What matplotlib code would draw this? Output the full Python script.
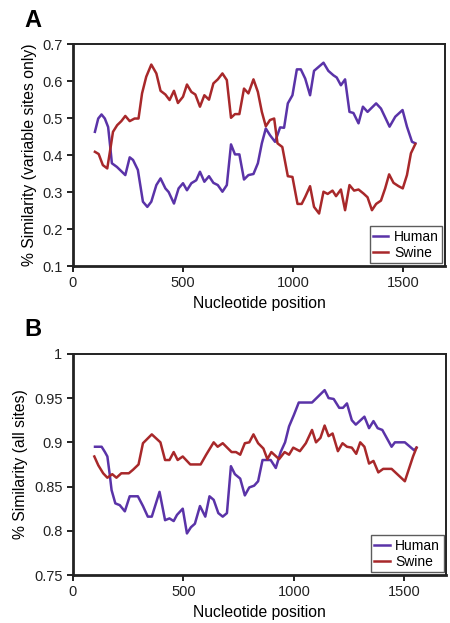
import matplotlib.pyplot as plt

plt.rcParams['font.family'] = ['Liberation Sans', 'DejaVu Sans']

# Panel A: variable sites only
human_a_pos = [100, 115, 130, 145, 160, 170, 177, 200, 238, 258, 273, 295, 318, 338, 356,
               379, 398, 420, 435, 459, 480, 500, 518, 538, 560, 577, 597, 618, 638, 658,
               679, 699, 718, 736, 756, 777, 797, 820, 840, 858, 876, 895, 918, 941, 959,
               976, 997, 1017, 1035, 1055, 1077, 1095, 1138, 1160, 1183, 1198, 1217, 1236,
               1256, 1274, 1297, 1317, 1338, 1377, 1399, 1438, 1464, 1497, 1517, 1540, 1555]
human_a = [0.463, 0.499, 0.51, 0.499, 0.476, 0.42, 0.378, 0.368, 0.346, 0.394, 0.387, 0.36,
           0.274, 0.26, 0.274, 0.319, 0.337, 0.31, 0.30, 0.269, 0.31, 0.324, 0.305, 0.324,
           0.332, 0.355, 0.328, 0.343, 0.325, 0.319, 0.301, 0.319, 0.429, 0.402, 0.402,
           0.334, 0.346, 0.349, 0.378, 0.432, 0.472, 0.454, 0.436, 0.475, 0.474, 0.54,
           0.562, 0.632, 0.632, 0.607, 0.562, 0.628, 0.65, 0.628, 0.616, 0.61, 0.589,
           0.605, 0.517, 0.514, 0.486, 0.531, 0.517, 0.54, 0.526, 0.477, 0.504, 0.522,
           0.477, 0.436, 0.432]

swine_a_pos = [100, 117, 136, 156, 171, 182, 201, 220, 238, 258, 280, 298, 314, 333, 356,
               379, 398, 420, 439, 459, 477, 500, 518, 538, 556, 577, 597, 618, 638, 658,
               679, 699, 718, 736, 756, 777, 797, 820, 840, 858, 876, 895, 914, 929, 951,
               976, 997, 1020, 1039, 1055, 1077, 1095, 1118, 1138, 1157, 1179, 1195, 1217,
               1236, 1256, 1277, 1297, 1320, 1338, 1358, 1377, 1399, 1418, 1436, 1456, 1479,
               1498, 1517, 1535, 1555]
swine_a = [0.409, 0.403, 0.373, 0.364, 0.42, 0.463, 0.481, 0.492, 0.506, 0.492, 0.499,
           0.499, 0.567, 0.612, 0.645, 0.621, 0.574, 0.564, 0.549, 0.574, 0.541, 0.558,
           0.591, 0.571, 0.564, 0.531, 0.562, 0.55, 0.594, 0.605, 0.621, 0.603, 0.501,
           0.511, 0.511, 0.58, 0.567, 0.605, 0.571, 0.517, 0.478, 0.495, 0.499, 0.432,
           0.422, 0.343, 0.341, 0.268, 0.268, 0.287, 0.316, 0.26, 0.242, 0.301, 0.295,
           0.304, 0.289, 0.307, 0.251, 0.319, 0.304, 0.307, 0.296, 0.286, 0.251, 0.268,
           0.277, 0.31, 0.348, 0.325, 0.316, 0.31, 0.346, 0.405, 0.43]

# Panel B: all sites
human_b_pos = [100, 130, 145, 156, 167, 175, 192, 212, 235, 257, 294, 317, 339, 357, 392,
               417, 437, 456, 471, 497, 516, 534, 552, 575, 599, 618, 637, 658, 678, 697,
               715, 733, 757, 778, 798, 820, 838, 858, 895, 918, 940, 960, 978, 1000, 1022,
               1082, 1139, 1157, 1180, 1205, 1222, 1240, 1262, 1280, 1319, 1340, 1360, 1379,
               1400, 1442, 1457, 1502, 1544, 1555]
human_b = [0.895, 0.895, 0.889, 0.884, 0.863, 0.846, 0.831, 0.829, 0.822, 0.839, 0.839,
           0.828, 0.816, 0.816, 0.844, 0.812, 0.814, 0.811, 0.818, 0.825, 0.797, 0.804,
           0.808, 0.828, 0.816, 0.839, 0.835, 0.820, 0.816, 0.820, 0.873, 0.864, 0.859,
           0.840, 0.849, 0.851, 0.856, 0.880, 0.880, 0.871, 0.889, 0.900, 0.918, 0.931,
           0.945, 0.945, 0.959, 0.950, 0.949, 0.939, 0.939, 0.944, 0.925, 0.920, 0.929,
           0.916, 0.924, 0.916, 0.914, 0.895, 0.900, 0.900, 0.891, 0.894]

swine_b_pos = [97, 115, 137, 156, 178, 197, 219, 253, 272, 297, 317, 357, 396, 417, 437,
               456, 474, 497, 531, 578, 603, 637, 655, 678, 718, 738, 757, 778, 798, 817,
               838, 862, 880, 898, 933, 958, 978, 997, 1027, 1054, 1082, 1100, 1120, 1139,
               1157, 1175, 1199, 1220, 1240, 1262, 1282, 1300, 1319, 1340, 1360, 1382, 1404,
               1442, 1502, 1539, 1555]
swine_b = [0.884, 0.874, 0.865, 0.860, 0.864, 0.860, 0.865, 0.865, 0.869, 0.875, 0.899,
           0.909, 0.900, 0.880, 0.880, 0.889, 0.880, 0.884, 0.875, 0.875, 0.886, 0.900,
           0.895, 0.899, 0.889, 0.889, 0.886, 0.899, 0.900, 0.909, 0.899, 0.893, 0.881,
           0.889, 0.881, 0.889, 0.886, 0.894, 0.890, 0.899, 0.914, 0.900, 0.905, 0.919,
           0.907, 0.910, 0.890, 0.899, 0.895, 0.894, 0.887, 0.900, 0.895, 0.876, 0.879,
           0.866, 0.870, 0.870, 0.856, 0.884, 0.894]

HUMAN_C = '#5a33a8'
SWINE_C = '#a8282a'


def style_axes(ax):
    for sp in ax.spines.values():
        sp.set_linewidth(1.4)
        sp.set_color('#222222')
    ax.spines['left'].set_linewidth(2)
    ax.spines['bottom'].set_linewidth(2)
    ax.tick_params(direction='out', length=4, width=1.4, labelsize=10.5, colors='#222222')
    ax.set_xlim(0, 1690)
    ax.set_xticks([0, 500, 1000, 1500])
    ax.set_xlabel('Nucleotide position', fontsize=11.3)
    leg = ax.legend(loc='lower right', fontsize=10, frameon=True, fancybox=False,
                    handlelength=1.1, handletextpad=0.4, borderpad=0.25,
                    labelspacing=0.15, borderaxespad=0.2)
    leg.get_frame().set_edgecolor('#333333')
    leg.get_frame().set_linewidth(1.0)


fig = plt.figure(figsize=(4.5, 6.23), dpi=100)

ax1 = fig.add_axes([0.162, 0.573, 0.827, 0.356])
ax1.plot(human_a_pos, human_a, color=HUMAN_C, lw=1.8, label='Human')
ax1.plot(swine_a_pos, swine_a, color=SWINE_C, lw=1.8, label='Swine')
ax1.set_ylim(0.1, 0.7)
ax1.set_yticks([0.1, 0.2, 0.3, 0.4, 0.5, 0.6, 0.7])
ax1.set_yticklabels(['0.1', '0.2', '0.3', '0.4', '0.5', '0.6', '0.7'])
ax1.set_ylabel('% Similarity (variable sites only)', fontsize=11.3)
style_axes(ax1)

ax2 = fig.add_axes([0.162, 0.077, 0.830, 0.355])
ax2.plot(human_b_pos, human_b, color=HUMAN_C, lw=1.8, label='Human')
ax2.plot(swine_b_pos, swine_b, color=SWINE_C, lw=1.8, label='Swine')
ax2.set_ylim(0.75, 1.0)
ax2.set_yticks([0.75, 0.8, 0.85, 0.9, 0.95, 1.0])
ax2.set_yticklabels(['0.75', '0.8', '0.85', '0.9', '0.95', '1'])
ax2.set_ylabel('% Similarity (all sites)', fontsize=11.3)
style_axes(ax2)

fig.text(0.055, 0.985, 'A', fontsize=17, fontweight='bold', va='top', ha='left')
fig.text(0.055, 0.49, 'B', fontsize=17, fontweight='bold', va='top', ha='left')

fig.savefig('out.png', dpi=100)
